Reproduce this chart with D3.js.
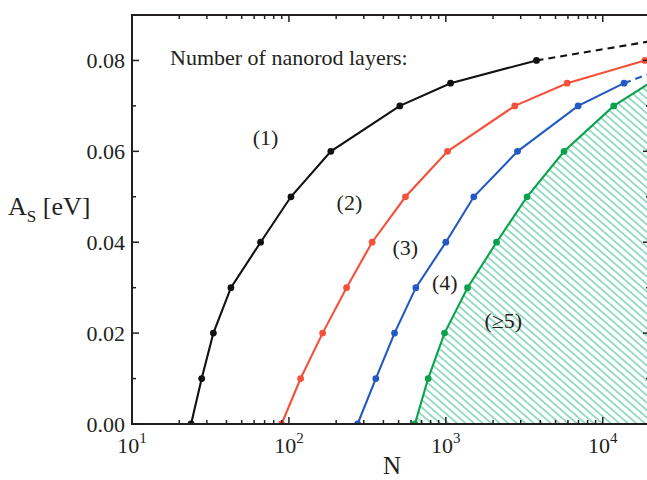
<!DOCTYPE html>
<html><head><meta charset="utf-8">
<script src="https://cdn.jsdelivr.net/npm/d3@7"></script>
<style>
body{margin:0;background:#fff}
svg{display:block}
text{font-family:"Liberation Serif","Times New Roman",serif;fill:#231f20}
</style>
</head><body>
<svg id="c" width="647" height="480"></svg>
<script>
// ---- data ----
const levels = [0, 0.01, 0.02, 0.03, 0.04, 0.05, 0.06, 0.07, 0.075, 0.08];
const curve1N = [23.8, 27.8, 33.0, 42.7, 66, 103, 185, 509, 1072, 3783];
const curve1DashN = [3783, 20000];
const curve1DashA = [0.08, 0.0842];
const curve2N = [89.8, 118.7, 164, 233, 339, 553, 1025, 2750, 5929, 18530];
const curve3N = [274, 358, 471, 644, 1000, 1507, 2863, 6966, 13670];
const curve3DashN = [13670, 20000];
const curve3DashA = [0.075, 0.0771];
const curve4N = [635, 771, 981, 1375, 2104, 3293, 5669, 11750];
const curve4EndN = 20000;
const curve4EndA = 0.0751;
const xMajorTicks = [10, 100, 1000, 10000];
const xTickExponents = ["1", "2", "3", "4"];
const yMajorTicks = [0, 0.02, 0.04, 0.06, 0.08];
const yTickLabels = ["0.00", "0.02", "0.04", "0.06", "0.08"];
const yMinorTicks = [0.01, 0.03, 0.05, 0.07];
const regionLabels = ["(1)", "(2)", "(3)", "(4)", "(\u22655)"];
const regionLabelN = [71, 243, 552, 986, 2323];
const regionLabelA = [0.0615, 0.0472, 0.0372, 0.0295, 0.0212];
const title = "Number of nanorod layers:";

// ---- layout ----
const X0 = 132, X1 = 650, Y0 = 424, Y1 = 15;
const x = d3.scaleLog().domain([10, 20000]).range([X0, X1]);
const y = d3.scaleLinear().domain([0, 0.09]).range([Y0, Y1]);
const svg = d3.select("#c");
const defs = svg.append("defs");
defs.append("clipPath").attr("id", "clip").append("rect")
  .attr("x", X0).attr("y", Y1).attr("width", X1 - X0).attr("height", Y0 - Y1);
const pat = defs.append("pattern").attr("id", "hatch")
  .attr("patternUnits", "userSpaceOnUse").attr("width", 10).attr("height", 5.6)
  .attr("patternTransform", "rotate(41)");
pat.append("line").attr("x1", 0).attr("x2", 10).attr("y1", 2.8).attr("y2", 2.8)
  .attr("stroke", "#34bb8c").attr("stroke-width", 1);

const mk = (ns, as) => ns.map((n, i) => ({n, a: as[i]}));
const line = d3.line().x(d => x(d.n)).y(d => y(d.a));
const plot = svg.append("g").attr("clip-path", "url(#clip)");

// hatched region (>=5 layers)
const g4 = mk(curve4N, levels).concat([{n: curve4EndN, a: curve4EndA}]);
const area = g4.concat([{n: curve4EndN, a: 0}]);
plot.append("path").attr("d", line(area) + "Z").attr("fill", "url(#hatch)");

const series = [
  {pts: mk(curve1N, levels), color: "#111111", dash: mk(curve1DashN, curve1DashA)},
  {pts: mk(curve2N, levels), color: "#f4503a"},
  {pts: mk(curve3N, levels), color: "#2259c4", dash: mk(curve3DashN, curve3DashA)},
  {pts: mk(curve4N, levels), color: "#0aa24c", ext: g4}
];
series.forEach(s => {
  plot.append("path").attr("d", line(s.ext || s.pts)).attr("fill", "none")
    .attr("stroke", s.color).attr("stroke-width", 2.1);
  if (s.dash) plot.append("path").attr("d", line(s.dash)).attr("fill", "none")
    .attr("stroke", s.color).attr("stroke-width", 2.1).attr("stroke-dasharray", "7,5");
  plot.selectAll(null).data(s.pts).enter().append("circle")
    .attr("cx", d => x(d.n)).attr("cy", d => y(d.a)).attr("r", 3.4).attr("fill", s.color);
});

// ---- axes ----
const ax = svg.append("g").attr("stroke", "#231f20").attr("stroke-width", 2).attr("fill", "none");
ax.append("rect").attr("x", X0).attr("y", Y1).attr("width", X1 - X0).attr("height", Y0 - Y1);
const xMinor = [];
[10, 100, 1000, 10000].forEach(b => { for (let k = 2; k <= 9; k++) if (b * k <= 20000) xMinor.push(b * k); });
const tk = ax.append("g").attr("stroke-width", 1.5);
xMajorTicks.forEach(v => {
  tk.append("line").attr("x1", x(v)).attr("x2", x(v)).attr("y1", Y0).attr("y2", Y0 - 7);
  tk.append("line").attr("x1", x(v)).attr("x2", x(v)).attr("y1", Y1).attr("y2", Y1 + 7);
});
xMinor.forEach(v => {
  tk.append("line").attr("x1", x(v)).attr("x2", x(v)).attr("y1", Y0).attr("y2", Y0 - 4);
  tk.append("line").attr("x1", x(v)).attr("x2", x(v)).attr("y1", Y1).attr("y2", Y1 + 4);
});
yMajorTicks.forEach(v => {
  tk.append("line").attr("x1", X0).attr("x2", X0 + 7).attr("y1", y(v)).attr("y2", y(v));
  tk.append("line").attr("x1", X1).attr("x2", X1 - 7).attr("y1", y(v)).attr("y2", y(v));
});
yMinorTicks.forEach(v => {
  tk.append("line").attr("x1", X0).attr("x2", X0 + 4).attr("y1", y(v)).attr("y2", y(v));
  tk.append("line").attr("x1", X1).attr("x2", X1 - 4).attr("y1", y(v)).attr("y2", y(v));
});

// tick labels
yMajorTicks.forEach((v, i) => {
  svg.append("text").attr("x", X0 - 7).attr("y", y(v) + 7.5).attr("text-anchor", "end")
    .attr("font-size", 22).text(yTickLabels[i]);
});
xMajorTicks.forEach((v, i) => {
  const t = svg.append("text").attr("x", x(v)).attr("y", 453).attr("text-anchor", "middle").attr("font-size", 22);
  t.append("tspan").text("10");
  t.append("tspan").attr("dy", -10).attr("font-size", 15).text(xTickExponents[i]);
});

// axis titles
const yt = svg.append("text").attr("x", 8).attr("y", 215).attr("font-size", 26);
yt.append("tspan").text("A");
yt.append("tspan").attr("dy", 7).attr("font-size", 17).text("S");
yt.append("tspan").attr("dy", -7).text(" [eV]");
svg.append("text").attr("x", 392).attr("y", 474).attr("text-anchor", "middle").attr("font-size", 25).text("N");

// annotations
svg.append("text").attr("x", 170).attr("y", 65).attr("font-size", 22).text(title);
regionLabels.forEach((s, i) => {
  svg.append("text").attr("x", x(regionLabelN[i])).attr("y", y(regionLabelA[i]))
    .attr("text-anchor", "middle").attr("font-size", 22).text(s);
});
</script>
</body></html>
